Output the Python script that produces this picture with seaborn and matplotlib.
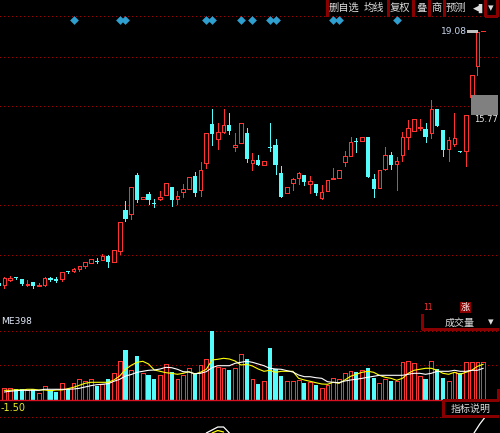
import numpy as np
import pandas as pd
import matplotlib
matplotlib.use("Agg")
import matplotlib.pyplot as plt
from matplotlib.lines import Line2D
from matplotlib.patches import Rectangle
import seaborn as sns

# candles start one session before the volume / moving-average lists
opens = [8.98,8.90,9.09,9.22,9.14,8.89,9.02,8.87,8.89,9.17,9.14,9.13,9.46,9.45,9.55,9.66,9.79,9.85,9.91,10.06,9.82,
         10.26,11.90,11.74,13.30,12.33,12.54,12.18,12.35,12.50,12.81,12.33,12.61,12.73,13.26,12.71,13.77,15.34,14.73,15.03,15.30,
         14.42,14.58,14.98,13.77,13.90,13.70,14.42,14.50,13.38,12.58,12.98,13.18,13.30,12.94,12.94,12.39,12.66,13.15,13.17,13.81,
         14.07,14.65,14.65,14.82,13.14,12.77,13.53,14.10,13.73,14.11,14.83,15.05,15.18,15.14,14.97,15.94,15.10,14.33,14.55,14.26,
         14.27,16.43,17.66,19.06]
closes = [8.86,9.18,9.18,9.17,8.93,8.95,8.86,8.90,9.18,9.10,9.05,9.42,9.41,9.55,9.65,9.81,9.93,9.82,10.06,9.81,10.29,
          11.41,11.55,12.81,12.30,12.41,12.31,12.14,12.41,12.97,12.31,12.45,12.73,13.21,12.58,13.50,14.97,14.94,15.01,15.30,15.06,
          14.50,15.38,13.93,13.90,13.70,13.86,14.39,13.70,12.43,12.82,13.14,13.37,13.02,13.06,12.57,12.62,13.10,13.18,13.50,14.06,
          14.61,14.62,14.82,13.23,12.75,13.49,14.10,13.70,13.85,14.82,15.18,15.54,15.22,14.82,15.94,15.25,14.31,14.70,14.78,14.21,
          15.69,17.30,19.02,19.08]
highs = [8.98,9.22,9.26,9.22,9.14,9.10,9.02,8.99,9.22,9.22,9.22,9.42,9.46,9.58,9.65,9.81,9.93,9.97,10.14,10.10,10.29,
         11.41,12.25,12.81,13.37,12.41,12.61,12.34,12.65,12.97,12.81,12.65,12.94,13.21,13.42,13.82,14.97,15.94,15.38,15.94,15.78,
         14.98,15.38,15.18,14.17,14.10,13.86,15.38,14.74,13.66,12.82,13.18,13.42,13.30,13.26,12.94,12.90,13.10,13.58,13.50,14.25,
         14.81,14.77,14.82,14.82,13.34,13.49,14.42,14.22,14.01,15.02,15.50,15.54,15.54,15.38,16.30,15.94,15.10,14.82,15.78,14.26,
         15.69,17.30,19.02,19.08]
lows = [8.86,8.78,9.06,9.14,8.90,8.86,8.78,8.87,8.87,9.06,9.02,9.06,9.38,9.42,9.46,9.59,9.79,9.78,9.90,9.63,9.82,
        10.15,11.47,11.55,12.23,12.33,12.14,12.03,12.31,12.50,12.06,12.14,12.43,12.73,12.47,12.46,13.59,14.50,14.34,14.99,14.94,
        14.26,14.58,13.83,13.50,13.70,13.70,14.26,13.34,12.42,12.58,12.70,12.94,12.90,12.58,12.51,12.34,12.66,13.15,13.17,13.66,
        14.07,14.22,14.65,13.23,12.42,12.77,13.50,13.54,12.70,13.86,14.34,15.05,15.10,14.62,14.78,15.25,14.06,13.86,14.46,14.21,
        13.66,16.43,17.30,19.06]

volumes = [11.7,11.7,10.7,10.7,10,10.7,7,13.7,10,8,16.7,11.3,16.7,20.7,18.7,20.7,14,15.7,20.7,26.7,38.7,49.7,30,44,26.7,25,21,24.7,35.7,
           27.7,20.7,24.7,31.7,25.7,34.7,40.7,69,32.7,31.7,30,31.7,45.7,40.7,20.7,16,18.7,51.7,30.7,24,18.7,18.7,20,17,17.7,15,11.7,15.3,21.7,20.7,
           26.7,28.7,27.7,29.7,31.7,21.7,16.7,20.7,18.7,18.7,37.7,38.7,36.7,23.7,20.7,38.7,30.7,21.7,18.7,27.7,26.7,37.7,37.7,37.7,37.7]
ma_yellow = [9.7,9.7,10.3,10,10.7,10.7,10,10,9.3,10,10,11.3,12.7,14.7,16.7,17.7,17.7,17.7,17.7,20,24,30.7,34.7,37.7,38.7,36,30,28.7,27.3,
             26.7,25.7,26.7,28.3,26,27.7,30.7,40,40.7,41.7,41,39,35,35.7,34,31,28.7,29.7,27.7,28.7,28.7,28.7,21.7,20,18.7,17.3,16,15.7,17.7,16.7,
             20,23.7,25.7,27.7,28.7,27.7,24.7,22.7,21.7,19.7,21.7,26.7,29.7,30.7,31.7,31.7,29.7,26.7,25.7,27.7,25.7,27.7,29.7,33.7,35.7]
ma_white = [8,8.7,9.3,9.7,9.7,9.7,9.7,10.7,10.7,10.7,10.7,10.7,11,11.7,13,14.3,15.3,15.7,16.3,18.7,20.7,24,25.5,27.7,28.7,29.7,30,31,32.7,
            32.3,30.7,28.3,28,26.3,26.7,28.3,32.3,34.3,34.3,34.3,36.7,37.7,38.7,37.7,36,34.3,31.7,31,30.7,29.3,28,25,23.3,23.3,22.3,21.7,18.3,17.7,17.3,
            19,20,20.7,21.7,22.7,23.7,24.7,24.7,24.7,24.7,24.7,25.7,26.7,26.7,25.7,26.7,28.7,28.7,28.7,29.7,28.7,28.7,29.7,29.7,31.7]
signal_white_idx = [35,36,37,38,39]
signal_white = [-33,-30,-27,-27,-33]
signal_yellow_idx = [36,37,38]
signal_yellow = [-33,-30.5,-32]
event_idx = [12,20,21,35,36,41,43,46,47,57,58,68]

RED, CYAN, DARK, BG = "#ff3232", "#54fcfc", "#8a0000", "#000000"
GRID = "#a00000"

sns.set_theme(style="dark", rc={"axes.facecolor": BG, "figure.facecolor": BG})
plt.rcParams["font.family"] = ["Noto Sans CJK SC", "DejaVu Sans"]

fig = plt.figure(figsize=(5, 4.33), dpi=100, facecolor=BG)
ax_price = fig.add_axes([0, 133/433, 1, 300/433], facecolor=BG)
ax_vol = fig.add_axes([0, 0, 1, 133/433], facecolor=BG)

candle_idx = np.arange(len(opens)) - 1
o, c, h, l = map(np.array, (opens, closes, highs, lows))
up = c >= o

ax_price.vlines(candle_idx[up], l[up], h[up], color=RED, lw=.72, antialiased=False)
ax_price.vlines(candle_idx[~up], l[~up], h[~up], color=CYAN, lw=.72, antialiased=False)
# up candles are hollow, down candles are solid
ax_price.bar(candle_idx[up], c[up]-o[up], bottom=o[up], width=.62, facecolor=BG,
             edgecolor=RED, lw=.72, antialiased=False, zorder=3, joinstyle="miter")
ax_price.bar(candle_idx[~up], (o-c)[~up], bottom=c[~up], width=.72, color=CYAN,
             lw=0, antialiased=False, zorder=3)
ax_price.scatter(event_idx, [19.5]*len(event_idx), marker="D", s=20, color="#2f9fd0", lw=0, zorder=4)

df = pd.DataFrame({"i": candle_idx[1:], "vol": volumes, "yellow": ma_yellow,
                   "white": ma_white, "up": up[1:]})
sns.barplot(data=df[df.up], x="i", y="vol", native_scale=True, color=BG, saturation=1,
            width=.66, linewidth=.72, edgecolor=RED, errorbar=None, antialiased=False, ax=ax_vol)
sns.barplot(data=df[~df.up], x="i", y="vol", native_scale=True, color=CYAN, saturation=1,
            width=.72, linewidth=0, errorbar=None, antialiased=False, ax=ax_vol)
sns.lineplot(data=df, x="i", y="yellow", color="#ffff00", lw=.8, ax=ax_vol, zorder=5)
sns.lineplot(data=df, x="i", y="white", color="#ffffff", lw=.8, ax=ax_vol, zorder=6)
ax_vol.plot(signal_white_idx, signal_white, color="#ffffff", lw=.9)
ax_vol.plot(signal_yellow_idx, signal_yellow, color="#ffff00", lw=.9)

xlim = (-0.745, 85.9)
for ax, ylim, ticks in ((ax_price, (8.3, 20.3), [19.66, 18.02, 16.06, 12.1, 10.1]),
                        (ax_vol, (-33, 100), [69, 35, -17])):
    ax.set_xlim(*xlim)
    ax.set_ylim(*ylim)
    ax.set_xticks([])
    ax.set_yticks(ticks)
    ax.set_yticklabels([])
    ax.set_xlabel("")
    ax.set_ylabel("")
    ax.tick_params(length=0)
    ax.grid(False)
    ax.yaxis.grid(True, color=GRID, lw=.72, ls=(0, (1, 3)), antialiased=False)
    ax.set_axisbelow(True)
    for s in ax.spines.values():
        s.set_visible(False)
ax_vol.axhline(0, color="#d81020", lw=1, xmax=443/500, zorder=7)


def X(x):
    return x / 500


def Y(y):
    return 1 - y / 433


def seg(x0, y0, x1, y1, color=DARK, lw=.8):
    fig.add_artist(Line2D([X(x0), X(x1)], [Y(y0), Y(y1)], color=color, lw=lw, antialiased=False))


def label(x, y, s, size=7.4, color="#dcdcdc", ha="left", **kw):
    fig.text(X(x), Y(y), s, fontsize=size, color=color, ha=ha, va="center", zorder=8, **kw)


# toolbar
for x in (327, 388, 413, 429, 444, 485, 497):
    seg(x, 0, x, 16)
seg(485, 16, 497, 16)
for x, s in ((329, "删自选"), (364, "均线"), (390, "复权"), (416, "叠"), (431, "商"), (446, "预测")):
    label(x, 8, s)
label(473, 8, "◀▌", size=6.5, family="DejaVu Sans")
label(491, 8.5, "▾", size=8, ha="center", family="DejaVu Sans")

# last-price flags
seg(467, 30.5, 477, 30.5, color="#c0c0c0")
label(441, 31, "19.08", size=6.6, color="#c8d8f0", family="DejaVu Sans")
fig.add_artist(Rectangle((X(471), Y(115)), 27/500, 20/433, transform=fig.transFigure,
                         facecolor="#808080", edgecolor="none", zorder=6))
label(474, 120, "15.77", size=6, color="#e8e8e8", family="DejaVu Sans")

# volume panel decoration
label(1, 322, "ME398", size=6.6, color="#e0e8f8", family="DejaVu Sans")
label(1, 408, "-1.50", size=7, color="#e8e820", family="DejaVu Sans")
label(423, 308, "11", size=5.5, color=RED, family="DejaVu Sans")
fig.add_artist(Rectangle((X(460), Y(313)), 11/500, 11/433, transform=fig.transFigure,
                         facecolor=DARK, edgecolor="none", zorder=6))
label(465.5, 307.5, "涨", size=6.5, ha="center", color="#ffffff")
seg(422, 314, 422, 329)
seg(422, 329, 498, 329)
label(445, 323, "成交量", size=7.2)
label(491, 322, "▾", size=8, ha="center", family="DejaVu Sans")
seg(443, 400, 498, 400)
seg(443, 400, 443, 417)
seg(443, 416, 498, 416)
seg(498, 389, 498, 400)
label(451, 409, "指标说明", size=7.2)
ax_vol.plot([81.4, 82.4, 83.2], [-33, -24, -18], color="#ffffff", lw=.9)

fig.savefig("out.png", dpi=100, facecolor=BG)
